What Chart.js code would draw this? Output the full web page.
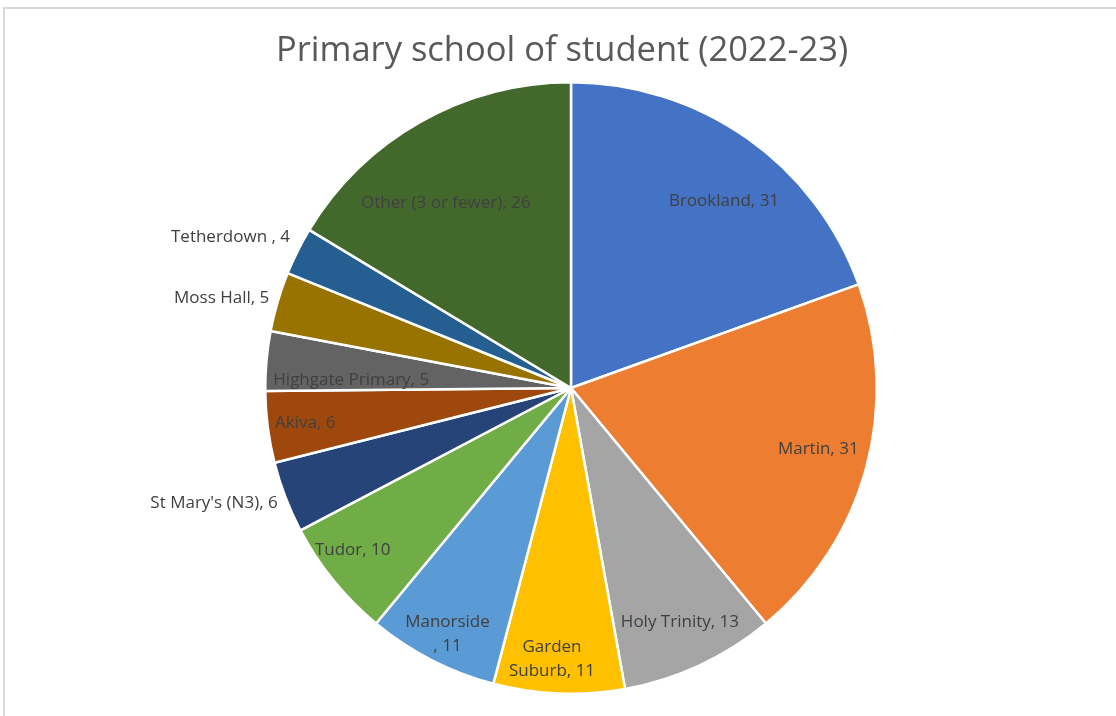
<!DOCTYPE html>
<html>
<head>
<meta charset="utf-8">
<script src="https://cdn.jsdelivr.net/npm/chart.js@4.4.0/dist/chart.umd.min.js"></script>
<style>
  html, body { margin: 0; padding: 0; background: #fff; }
  #wrap { width: 1116px; height: 716px; position: relative; }
</style>
</head>
<body>
<div id="wrap"><canvas id="pieChart" width="1116" height="716"></canvas></div>
<script>
const titleText = 'Primary school of student (2022-23)';
const schools = ['Brookland', 'Martin', 'Holy Trinity', 'Garden Suburb', 'Manorside', 'Tudor',
  "St Mary's (N3)", 'Akiva', 'Highgate Primary', 'Moss Hall', 'Tetherdown', 'Other (3 or fewer)'];
const students = [31, 31, 13, 11, 11, 10, 6, 6, 5, 5, 4, 26];
// label text as shown on the picture (line breaks where Excel wrapped them)
const labelLines = [
  ['Brookland, 31'], ['Martin, 31'], ['Holy Trinity, 13'], ['Garden', 'Suburb, 11'],
  ['Manorside', ', 11'], ['Tudor, 10'], ["St Mary's (N3), 6"], ['Akiva, 6'],
  ['Highgate Primary, 5'], ['Moss Hall, 5'], ['Tetherdown , 4'], ['Other (3 or fewer), 26']
];
const sliceColors = ['#4472C4', '#ED7D31', '#A5A5A5', '#FFC000', '#5B9BD5', '#70AD47',
  '#264478', '#9E480E', '#636363', '#997300', '#255E91', '#43682B'];

// label placement: [radius factor, fraction along slice, text align]
const labelPlace = [
  [0.79, 0.56, 'center'], [0.833, 0.48, 'center'], [0.846, 0.50, 'center'], [0.89, 0.57, 'center'],
  [0.90, 0.48, 'center'], [0.889, 0.61, 'center'], [1.03, 0.47, 'right'], [0.975, 0.55, 'left'],
  [0.974, 0.19, 'left'], [1.03, 0.52, 'right'], [1.043, 0.68, 'right'], [0.73, 0.42, 'center']
];

const FONT = '"Open Sans", "Noto Sans", sans-serif';

const frameAndTitle = {
  id: 'frameAndTitle',
  beforeDraw(chart) {
    const ctx = chart.ctx;
    ctx.save();
    ctx.strokeStyle = '#d9d9d9';
    ctx.lineWidth = 2;
    ctx.beginPath();
    ctx.moveTo(4, 716);
    ctx.lineTo(4, 8);
    ctx.lineTo(1116, 8);
    ctx.stroke();
    ctx.fillStyle = '#595959';
    ctx.font = '34.5px ' + FONT;
    ctx.textAlign = 'center';
    ctx.textBaseline = 'middle';
    ctx.fillText(titleText, 562, 51);
    ctx.restore();
  }
};

const sliceLabels = {
  id: 'sliceLabels',
  afterDatasetsDraw(chart) {
    const ctx = chart.ctx;
    const meta = chart.getDatasetMeta(0);
    ctx.save();
    ctx.fillStyle = '#404040';
    ctx.font = '17px ' + FONT;
    ctx.textBaseline = 'middle';
    meta.data.forEach((arc, i) => {
      const p = arc.getProps(['x', 'y', 'startAngle', 'endAngle', 'outerRadius'], true);
      const [rf, frac, align] = labelPlace[i];
      const a = p.startAngle + (p.endAngle - p.startAngle) * frac;
      const r = p.outerRadius * rf;
      const x = p.x + Math.cos(a) * r;
      const y = p.y + Math.sin(a) * r;
      const lines = labelLines[i];
      const lh = 24;
      ctx.textAlign = align;
      lines.forEach((t, k) => {
        ctx.fillText(t, x, y + (k - (lines.length - 1) / 2) * lh);
      });
    });
    ctx.restore();
  }
};

new Chart(document.getElementById('pieChart'), {
  type: 'pie',
  data: {
    labels: schools,
    datasets: [{
      data: students,
      backgroundColor: sliceColors,
      borderColor: '#ffffff',
      borderWidth: 2.5
    }]
  },
  options: {
    responsive: false,
    animation: false,
    layout: { padding: { top: 81, bottom: 21, left: 264, right: 238 } },
    plugins: {
      legend: { display: false },
      title: { display: false },
      tooltip: { enabled: false }
    }
  },
  plugins: [frameAndTitle, sliceLabels]
});
</script>
</body>
</html>
